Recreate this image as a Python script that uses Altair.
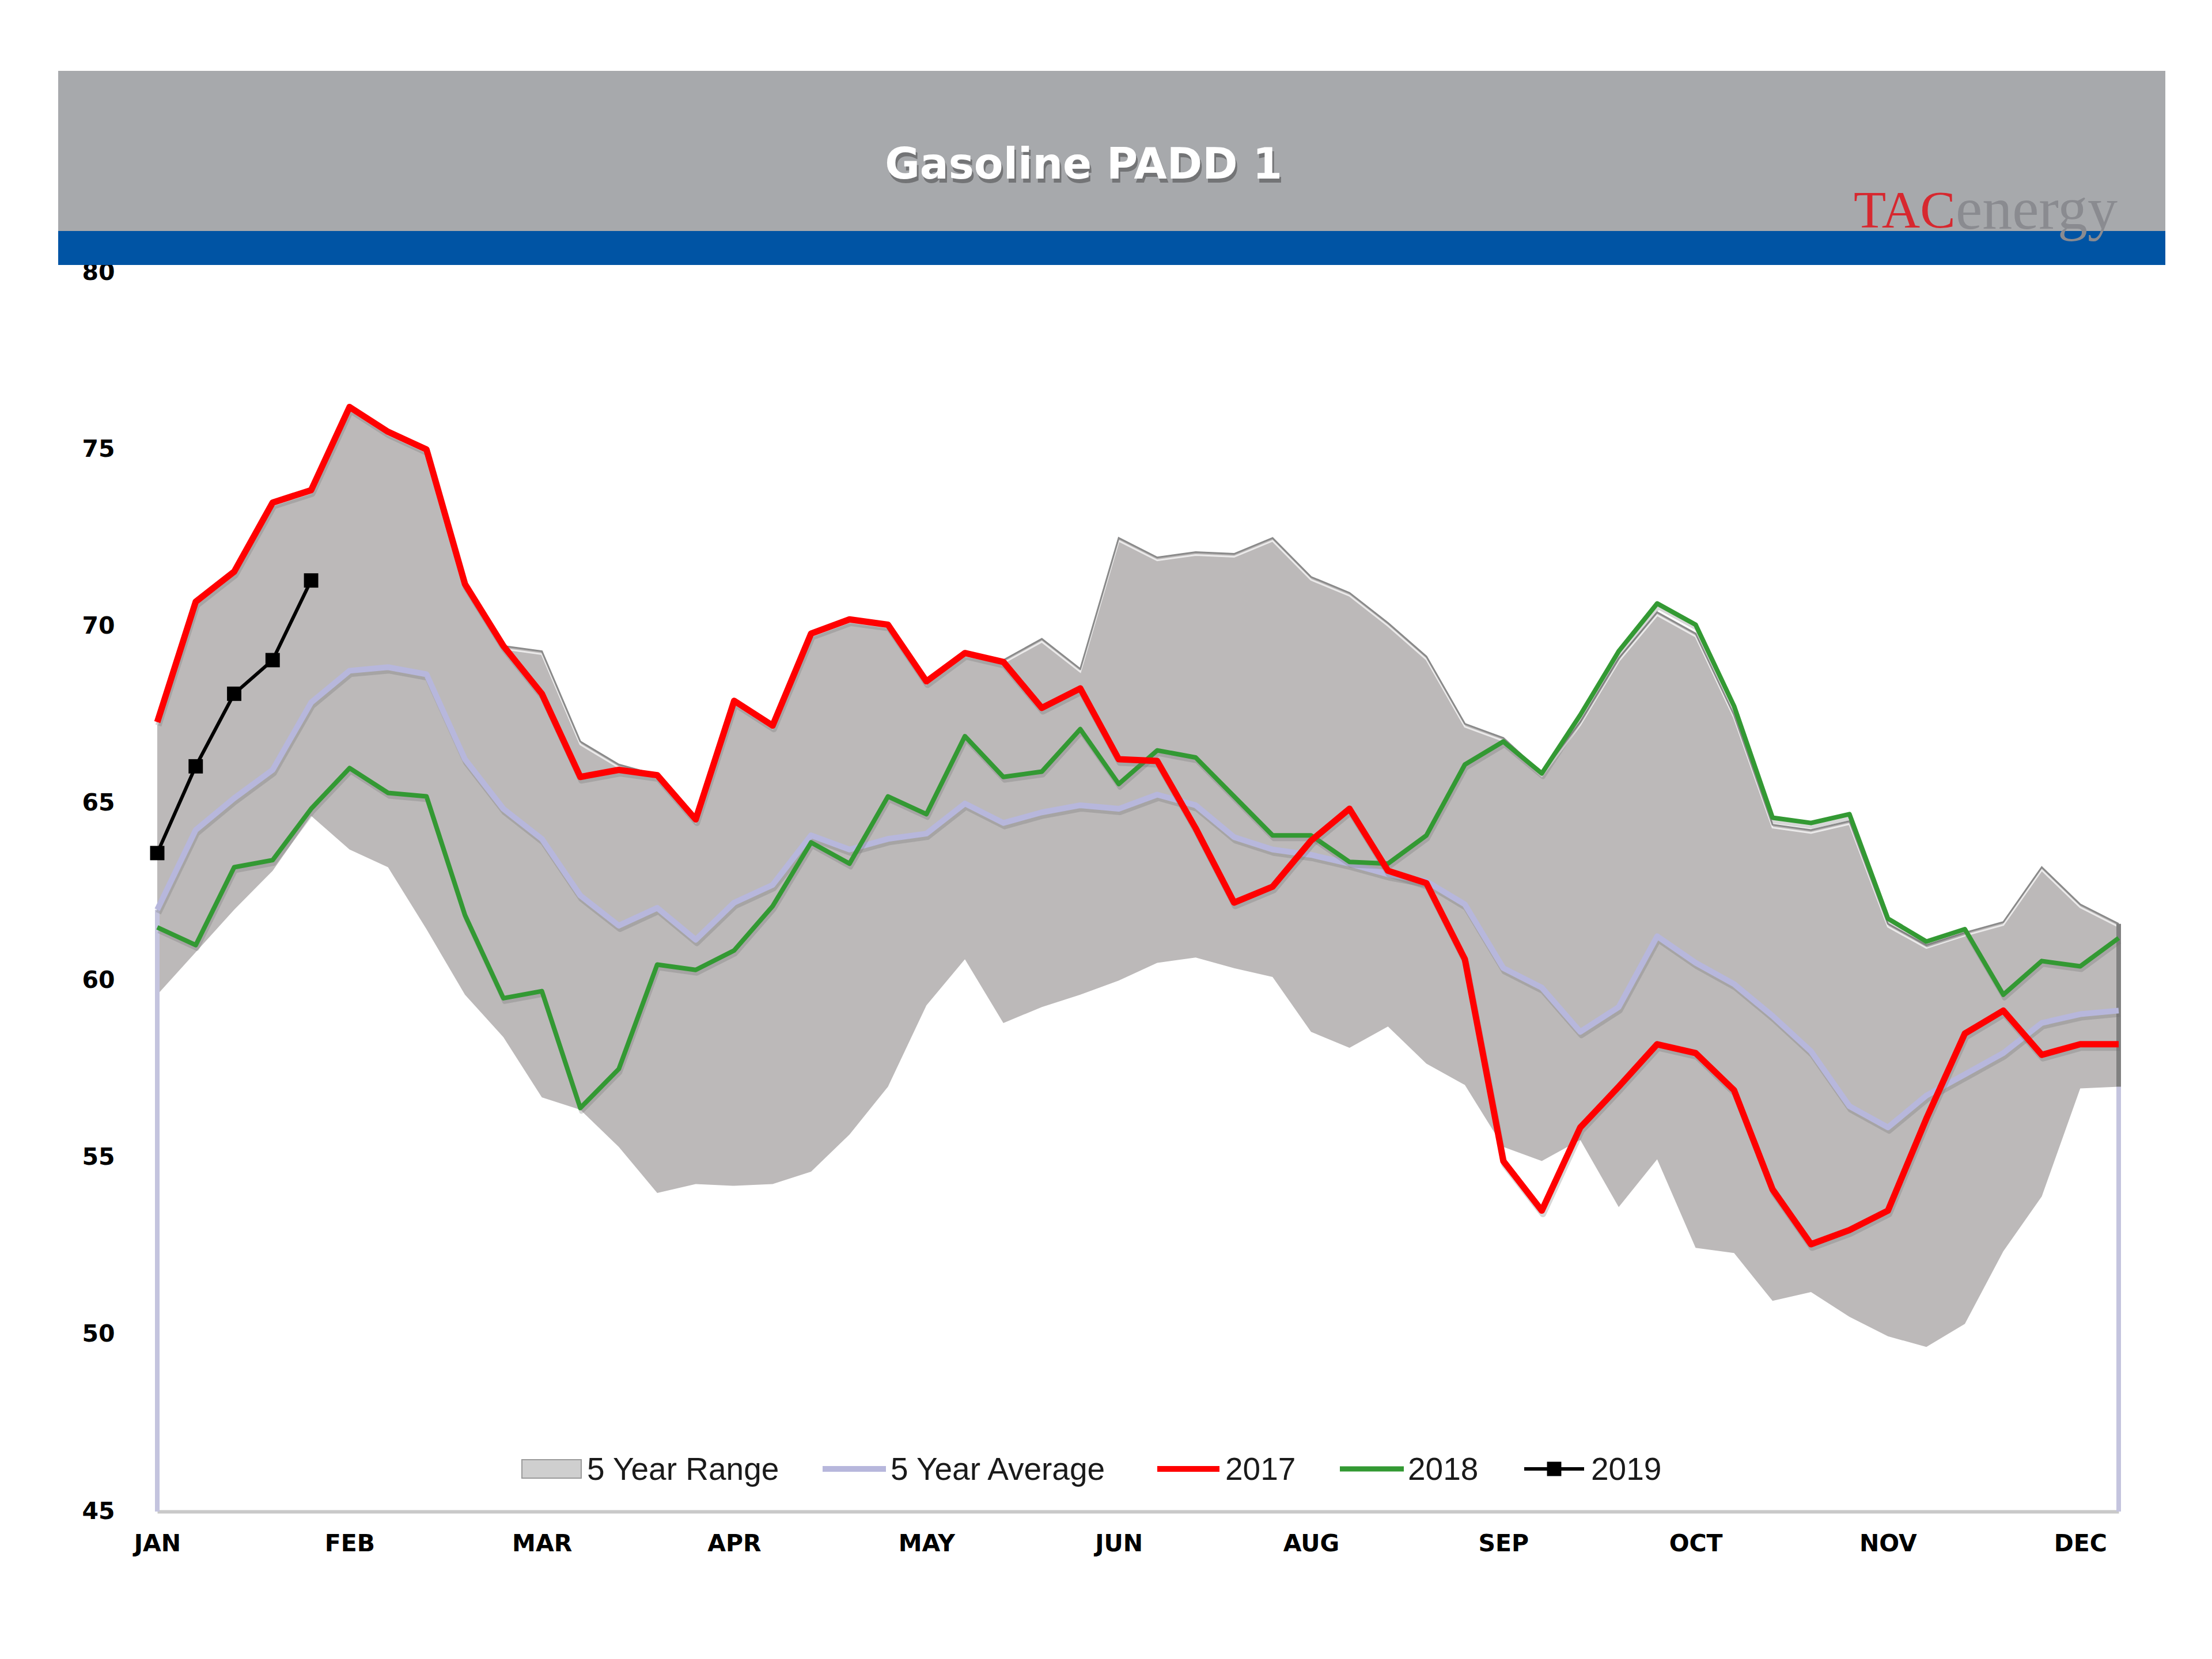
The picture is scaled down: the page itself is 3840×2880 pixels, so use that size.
import altair as alt
import pandas as pd

# ---------------- data ----------------
weeks = list(range(52))

range_hi = [67.3, 70.7, 71.55, 73.5, 73.85, 76.2, 75.5, 75.0, 71.2, 69.45,
            69.3, 66.75, 66.1, 65.8, 64.55, 67.9, 67.2, 69.8, 70.2, 70.05,
            68.45, 69.25, 69.05, 69.65, 68.8, 72.5, 71.95, 72.1, 72.05, 72.5,
            71.4, 70.95, 70.1, 69.15, 67.25, 66.85, 65.85, 67.3, 69.1, 70.4,
            69.8, 67.5, 64.4, 64.25, 64.5, 61.6, 61.0, 61.35, 61.65, 63.2,
            62.15, 61.6]

range_lo = [59.6, 60.8, 62.0, 63.1, 64.65, 63.7, 63.2, 61.45, 59.6, 58.4,
            56.7, 56.35, 55.3, 54.0, 54.25, 54.2, 54.25, 54.6, 55.65, 57.0,
            59.3, 60.6, 58.8, 59.25, 59.6, 60.0, 60.5, 60.65, 60.35, 60.1,
            58.55, 58.1, 58.7, 57.65, 57.05, 55.3, 54.9, 55.5, 53.6, 54.95,
            52.45, 52.3, 50.95, 51.2, 50.5, 49.95, 49.65, 50.3, 52.35, 53.9,
            56.95, 57.0]

avg5 = [62.0, 64.25, 65.15, 65.95, 67.85, 68.75, 68.85, 68.65, 66.25, 64.85,
        64.0, 62.4, 61.55, 62.05, 61.15, 62.2, 62.7, 64.1, 63.7, 64.0,
        64.15, 65.0, 64.45, 64.75, 64.95, 64.85, 65.25, 64.95, 64.05, 63.7,
        63.55, 63.3, 63.0, 62.8, 62.15, 60.35, 59.8, 58.55, 59.25, 61.25,
        60.5, 59.9, 59.0, 58.0, 56.45, 55.85, 56.75, 57.35, 57.95, 58.8,
        59.05, 59.15]

y2017 = [67.3, 70.7, 71.55, 73.5, 73.85, 76.2, 75.5, 75.0, 71.2, 69.45,
         68.1, 65.75, 65.95, 65.8, 64.55, 67.9, 67.2, 69.8, 70.2, 70.05,
         68.45, 69.25, 69.0, 67.7, 68.25, 66.25, 66.2, 64.3, 62.2, 62.65,
         63.95, 64.85, 63.1, 62.75, 60.6, 54.9, 53.5, 55.85, 57.0, 58.2,
         57.95, 56.9, 54.1, 52.55, 52.95, 53.5, 56.1, 58.5, 59.15, 57.9,
         58.2, 58.2]

y2018 = [61.5, 61.0, 63.2, 63.4, 64.85, 66.0, 65.3, 65.2, 61.85, 59.5,
         59.7, 56.4, 57.5, 60.45, 60.3, 60.85, 62.1, 63.9, 63.3, 65.2,
         64.7, 66.9, 65.75, 65.9, 67.1, 65.55, 66.5, 66.3, 65.2, 64.1,
         64.1, 63.35, 63.3, 64.1, 66.1, 66.75, 65.85, 67.5, 69.3, 70.65,
         70.05, 67.75, 64.6, 64.45, 64.7, 61.75, 61.1, 61.45, 59.6, 60.55,
         60.4, 61.2]

y2019 = [63.6, 66.05, 68.1, 69.05, 71.3]

x_labels = ["JAN", "FEB", "MAR", "APR", "MAY", "JUN", "AUG", "SEP", "OCT", "NOV", "DEC"]
label_weeks = list(range(0, 51, 5))
y_ticks = [45, 50, 55, 60, 65, 70, 75, 80]

title_text = "Gasoline PADD 1"
legend_names = ["5 Year Range", "5 Year Average", "2017", "2018", "2019"]

# ---------------- tables ----------------
df = pd.DataFrame({"week": weeks, "hi": range_hi, "lo": range_lo, "avg": avg5,
                   "y2017": y2017, "y2018": y2018})
df19 = pd.DataFrame({"week": weeks[:len(y2019)], "v": y2019})
ends = pd.DataFrame({"week": [weeks[0], weeks[-1]], "avg": [avg5[0], avg5[-1]]})
right_end = pd.DataFrame({"week": [weeks[-1]], "hi": [range_hi[-1]], "lo": [range_lo[-1]]})
one = pd.DataFrame({"k": [0]})

# ---------------- styling ----------------
W, H = 3405, 2151
FONT = "Liberation Sans"
AXFONT = "DejaVu Sans"
RANGE_FILL = "#bcb9b9"
AVG_COL = "#b7b7dc"
RED = "#ff0000"
GREEN = "#339933"

label_expr = "[" + ",".join(f"'{l}'" for l in x_labels) + "][round(datum.value/5)]"

xscale = alt.Scale(domain=[0, 51], nice=False, zero=False)
yscale = alt.Scale(domain=[45, 80], nice=False, zero=False)

x_axis = alt.Axis(values=label_weeks, labelExpr=label_expr, ticks=False, grid=False,
                  domainColor="#c9c9c9", domainWidth=6, labelFont=AXFONT,
                  labelFontSize=41, labelFontWeight="bold", labelColor="black",
                  labelPadding=36, labelFlush=False, labelOverlap=False, title=None)
y_axis = alt.Axis(values=y_ticks, ticks=False, grid=False, domain=False,
                  labelFont=AXFONT, labelFontSize=41, labelFontWeight="bold",
                  labelColor="black", labelPadding=74, labelFlush=False,
                  labelOverlap=False, title=None)

def Xq():
    return alt.X("week:Q", scale=xscale, axis=x_axis)

def Yq(field):
    return alt.Y(f"{field}:Q", scale=yscale, axis=y_axis)

base = alt.Chart(df)

area = base.mark_area(color=RANGE_FILL).encode(x=Xq(), y=Yq("hi"), y2="lo:Q")
area_edge_hi = base.mark_line(color="#8a8a8a", strokeWidth=3).encode(x=Xq(), y=Yq("hi"))
area_glow = base.mark_line(color="white", strokeWidth=3, opacity=0.7, yOffset=5).encode(
    x=Xq(), y=Yq("hi"))

drops = alt.Chart(ends).mark_rule(color="#c4c4de", strokeWidth=8).encode(
    x=Xq(), y=Yq("avg"), y2=alt.Y2Datum(45))
right_edge = alt.Chart(right_end).mark_rule(color="#808080", strokeWidth=8).encode(
    x=Xq(), y=Yq("hi"), y2="lo:Q")

def series(field, color, width):
    shadow = base.mark_line(color="#6f6f6f", opacity=0.28, strokeWidth=width,
                            xOffset=2, yOffset=6, strokeJoin="round").encode(x=Xq(), y=Yq(field))
    line = base.mark_line(color=color, strokeWidth=width, strokeJoin="round").encode(
        x=Xq(), y=Yq(field))
    return [shadow, line]

avg_layer = series("avg", AVG_COL, 10)
l2018 = series("y2018", GREEN, 8)
l2017 = series("y2017", RED, 11)

l2019 = alt.Chart(df19).mark_line(color="black", strokeWidth=6).encode(x=Xq(), y=Yq("v"))
p2019 = alt.Chart(df19).mark_point(shape="square", filled=True, size=620, color="black",
                                   opacity=1).encode(x=Xq(), y=Yq("v"))

# ---------------- header ----------------
hdr = alt.Chart(one)
band_gray = hdr.mark_rect(color="#a7a9ac").encode(
    x=alt.value(-172), x2=alt.value(3486), y=alt.value(-350), y2=alt.value(-72))
band_blue = hdr.mark_rect(color="#0054a4").encode(
    x=alt.value(-172), x2=alt.value(3486), y=alt.value(-72), y2=alt.value(-13))
title_shadow = hdr.mark_text(text=title_text, font="DejaVu Sans", fontSize=74, fontWeight="bold",
                             color="#4a4a4a", opacity=0.55, align="center", baseline="middle",
                             dx=3, dy=7).encode(x=alt.value(1608), y=alt.value(-185))
title = hdr.mark_text(text=title_text, font="DejaVu Sans", fontSize=74, fontWeight="bold",
                      color="white", align="center", baseline="middle").encode(
    x=alt.value(1608), y=alt.value(-185))
logo_tac = hdr.mark_text(text="TAC", font="Liberation Serif", fontSize=92, color="#d7282f",
                         align="left", baseline="alphabetic").encode(
    x=alt.value(2945), y=alt.value(-78))
logo_energy = hdr.mark_text(text="energy", font="Liberation Serif", fontSize=104,
                            color="#8a8b90", align="left", baseline="alphabetic").encode(
    x=alt.value(3122), y=alt.value(-76))

# ---------------- legend ----------------
LY = 2077
leg = alt.Chart(one)
lg_box = leg.mark_rect(fill="#cfcfcf", stroke="#9a9a9a", strokeWidth=2).encode(
    x=alt.value(633), x2=alt.value(736), y=alt.value(LY - 16), y2=alt.value(LY + 16))
lg_avg = leg.mark_rule(color=AVG_COL, strokeWidth=10).encode(
    x=alt.value(1155), x2=alt.value(1265), y=alt.value(LY))
lg_17 = leg.mark_rule(color=RED, strokeWidth=10).encode(
    x=alt.value(1736), x2=alt.value(1844), y=alt.value(LY))
lg_18 = leg.mark_rule(color=GREEN, strokeWidth=9).encode(
    x=alt.value(2053), x2=alt.value(2164), y=alt.value(LY))
lg_19 = leg.mark_rule(color="black", strokeWidth=6).encode(
    x=alt.value(2373), x2=alt.value(2477), y=alt.value(LY))
lg_19p = leg.mark_point(shape="square", filled=True, size=620, color="black", opacity=1).encode(
    x=alt.value(2425), y=alt.value(LY))
text_x = [746, 1273, 1854, 2171, 2489]
lg_texts = [leg.mark_text(text=n, font=FONT, fontSize=55, color="#1a1a1a", align="left",
                          baseline="middle").encode(x=alt.value(tx), y=alt.value(LY + 2))
            for n, tx in zip(legend_names, text_x)]

chart = alt.layer(
    area, area_glow, area_edge_hi, drops, right_edge,
    *avg_layer, *l2018, *l2017, l2019, p2019,
    band_gray, band_blue, title_shadow, title, logo_tac, logo_energy,
    lg_box, lg_avg, lg_17, lg_18, lg_19, lg_19p, *lg_texts
).properties(
    width=W, height=H,
    padding={"left": 265, "top": 465, "right": 154, "bottom": 248},
    autosize=alt.AutoSizeParams(type="none"),
    background="white",
).configure_view(stroke=None)

chart.save("out.html", embed_options={"renderer": "svg", "actions": False})
